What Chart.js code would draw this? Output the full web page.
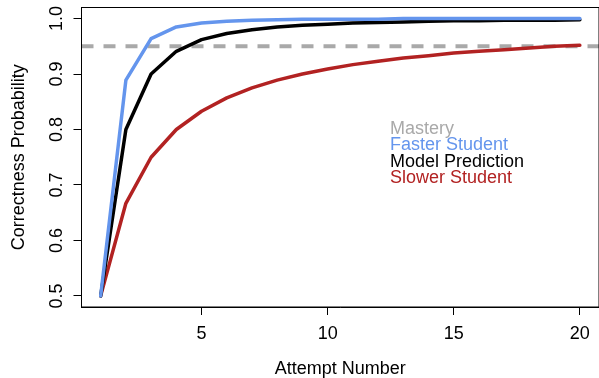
<!DOCTYPE html>
<html>
<head>
<meta charset="utf-8">
<script src="https://cdn.jsdelivr.net/npm/chart.js@4.4.1/dist/chart.umd.min.js"></script>
<style>
  html, body { margin: 0; padding: 0; background: #fff; }
  #wrap { width: 599px; height: 378px; }
</style>
</head>
<body>
<div id="wrap"><canvas id="chart" width="599" height="378"></canvas></div>
<script>
// attempts 1..20
const attempts = [1, 2, 3, 4, 5, 6, 7, 8, 9, 10, 11, 12, 13, 14, 15, 16, 17, 18, 19, 20];

// values
const fasterStudent = [0.500, 0.889, 0.964, 0.985, 0.992, 0.995, 0.997, 0.998, 0.999, 0.999,
                       0.999, 0.999, 1.000, 1.000, 1.000, 1.000, 1.000, 1.000, 1.000, 1.000];
const modelPrediction = [0.500, 0.800, 0.900, 0.941, 0.962, 0.973, 0.980, 0.985, 0.988, 0.990,
                         0.992, 0.993, 0.994, 0.995, 0.996, 0.996, 0.997, 0.997, 0.997, 0.998];
const slowerStudent = [0.500, 0.667, 0.750, 0.800, 0.833, 0.857, 0.875, 0.889, 0.900, 0.909,
                       0.917, 0.923, 0.929, 0.933, 0.938, 0.941, 0.944, 0.947, 0.950, 0.952];
const masteryLevel = 0.95;

const xTicks = [5, 10, 15, 20];
const yTicks = [0.5, 0.6, 0.7, 0.8, 0.9, 1.0];
const legendLabels = ["Mastery", "Faster Student", "Model Prediction", "Slower Student"];

const GRAY = "#A9A9A9";
const BLUE = "#6495ED";
const BLACK = "#000000";
const RED = "#B22222";
const FONT = "Liberation Sans, Arial, Helvetica, sans-serif";

// R style axis range (4% extension)
const xMin = 1 - 19 * 0.04, xMax = 20 + 19 * 0.04;
const yMin = 0.5 - 0.5 * 0.04, yMax = 1.0 + 0.5 * 0.04;

function toPoints(vals) {
  return attempts.map(function (a, i) { return { x: a, y: vals[i] }; });
}

// box, mastery line, y tick labels and text legend
const basePlot = {
  id: "basePlot",
  beforeDatasetsDraw: function (chart) {
    const ctx = chart.ctx;
    const a = chart.chartArea;
    const y = chart.scales.y.getPixelForValue(masteryLevel);
    ctx.save();
    ctx.beginPath();
    ctx.rect(a.left, a.top, a.right - a.left, a.bottom - a.top);
    ctx.clip();
    ctx.strokeStyle = GRAY;
    ctx.lineWidth = 4;
    ctx.setLineDash([12, 10]);
    ctx.beginPath();
    ctx.moveTo(a.left, y);
    ctx.lineTo(a.right, y);
    ctx.stroke();
    ctx.restore();
  },
  afterDraw: function (chart) {
    const ctx = chart.ctx;
    const a = chart.chartArea;
    ctx.save();
    ctx.strokeStyle = "#000";
    ctx.lineWidth = 1;
    ctx.strokeRect(a.left, a.top, a.right - a.left, a.bottom - a.top);

    // y tick labels, rotated like R's las = 0
    ctx.fillStyle = "#000";
    ctx.font = "18px " + FONT;
    ctx.textAlign = "center";
    ctx.textBaseline = "alphabetic";
    yTicks.forEach(function (v) {
      const py = chart.scales.y.getPixelForValue(v);
      ctx.save();
      ctx.translate(61.5, py);
      ctx.rotate(-Math.PI / 2);
      ctx.fillText(v.toFixed(1), 0, 0);
      ctx.restore();
    });

    // legend as coloured text
    const colors = [GRAY, BLUE, BLACK, RED];
    ctx.textAlign = "left";
    legendLabels.forEach(function (t, i) {
      ctx.fillStyle = colors[i];
      ctx.fillText(t, 390, 134 + i * 16.4);
    });
    ctx.restore();
  }
};

new Chart(document.getElementById("chart"), {
  type: "line",
  data: {
    datasets: [
      { label: "Faster Student", data: toPoints(fasterStudent), borderColor: BLUE, order: 0 },
      { label: "Model Prediction", data: toPoints(modelPrediction), borderColor: BLACK, order: 1 },
      { label: "Slower Student", data: toPoints(slowerStudent), borderColor: RED, order: 2 },
    ],
  },
  options: {
    responsive: false,
    animation: false,
    devicePixelRatio: 1,
    layout: { padding: { top: 7.5, right: 0, left: 0, bottom: 0 } },
    elements: {
      line: { borderWidth: 3.5, tension: 0, borderCapStyle: "round", borderJoinStyle: "round" },
      point: { radius: 0 },
    },
    plugins: {
      legend: { display: false },
      tooltip: { enabled: false },
    },
    scales: {
      x: {
        type: "linear",
        min: xMin,
        max: xMax,
        afterBuildTicks: function (scale) {
          scale.ticks = xTicks.map(function (v) { return { value: v }; });
        },
        afterFit: function (scale) { scale.height = 71; },
        grid: { drawOnChartArea: false, drawTicks: true, tickLength: 8, color: "#000" },
        border: { display: true, color: "#000" },
        ticks: { color: "#000", font: { family: FONT, size: 18 }, padding: 8, maxRotation: 0 },
        title: {
          display: true,
          text: "Attempt Number",
          color: "#000",
          font: { family: FONT, size: 18, lineHeight: 1.0 },
          padding: { top: 0, bottom: 0 },
        },
      },
      y: {
        type: "linear",
        min: yMin,
        max: yMax,
        afterBuildTicks: function (scale) {
          scale.ticks = yTicks.map(function (v) { return { value: v }; });
        },
        afterFit: function (scale) { scale.width = 81.5; },
        grid: { drawOnChartArea: false, drawTicks: true, tickLength: 8, color: "#000" },
        border: { display: true, color: "#000" },
        ticks: { display: false },
        title: {
          display: true,
          text: "Correctness Probability",
          color: "#000",
          font: { family: FONT, size: 18 },
          padding: { top: 8, bottom: 0 },
        },
      },
    },
  },
  plugins: [basePlot],
});
</script>
</body>
</html>
